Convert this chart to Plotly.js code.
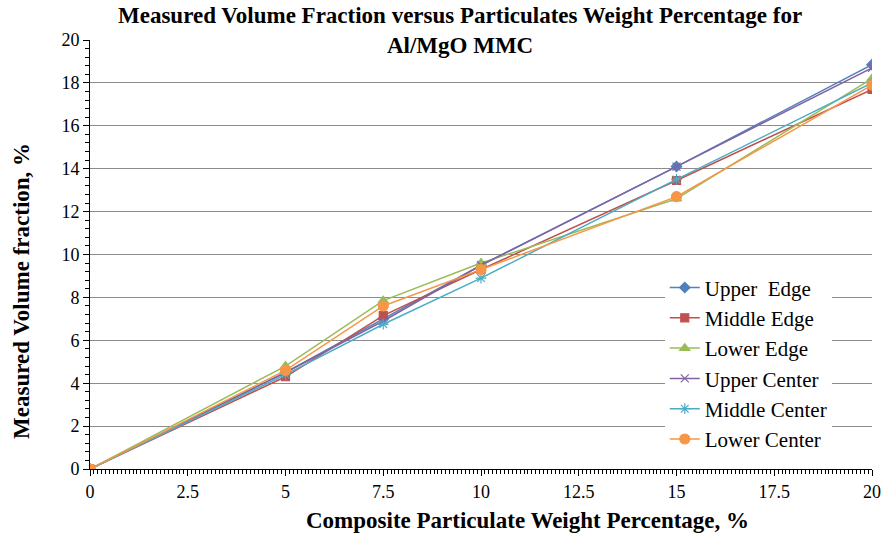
<!DOCTYPE html>
<html>
<head>
<meta charset="utf-8">
<script src="https://cdn.plot.ly/plotly-3.0.1.min.js"></script>
<style>html,body{margin:0;padding:0;background:#fff;}#chart{width:884px;height:535px;}</style>
</head>
<body>
<div id="chart"></div>
<script>
const weightPct = [0, 5, 7.5, 10, 15, 20];
const seriesNames = ["Upper  Edge", "Middle Edge", "Lower Edge", "Upper Center", "Middle Center", "Lower Center"];
const upperEdge = [0, 4.5, 7.0, 9.5, 14.1, 18.85];
const middleEdge = [0, 4.3, 7.15, 9.3, 13.45, 17.7];
const lowerEdge = [0, 4.8, 7.85, 9.6, 12.6, 18.2];
const upperCenter = [0, 4.5, 6.9, 9.5, 14.1, 18.7];
const middleCenter = [0, 4.4, 6.75, 8.9, 13.5, 18.0];
const lowerCenter = [0, 4.6, 7.6, 9.3, 12.7, 17.9];
const xTickVals = [0, 2.5, 5, 7.5, 10, 12.5, 15, 17.5, 20];
const xTickText = ["0", "2.5", "5", "7.5", "10", "12.5", "15", "17.5", "20"];
const chartTitle = "<b>Measured Volume Fraction versus Particulates Weight Percentage for<br>Al/MgO MMC</b>";
const xTitle = "<b>Composite Particulate Weight Percentage, %</b>";
const yTitle = "<b>Measured Volume fraction, %</b>";

const allSeries = [upperEdge, middleEdge, lowerEdge, upperCenter, middleCenter, lowerCenter];
const colors = ["#4F81BD", "#C0504D", "#9BBB59", "#8064A2", "#4BACC6", "#F79646"];
const symbols = ["diamond", "square", "triangle-up", "x-thin-open", "asterisk-open", "circle"];
const sizes = [8, 8, 9, 8, 9, 10];

const traces = allSeries.map((ys, i) => ({
  x: weightPct, y: ys, name: seriesNames[i], type: "scatter", mode: "lines+markers",
  line: {color: colors[i], width: 1.5},
  marker: {symbol: symbols[i], size: sizes[i], color: colors[i], line: {color: colors[i], width: 1.2}}
}));

const serif = "Liberation Serif";
const layout = {
  width: 884, height: 535,
  margin: {l: 90, r: 12, t: 40, b: 66},
  paper_bgcolor: "#fff", plot_bgcolor: "#fff",
  font: {family: serif, size: 18, color: "#000"},
  xaxis: {range: [0, 20], tickmode: "array", tickvals: xTickVals, ticktext: xTickText,
          showgrid: false, zeroline: false, showline: true, linecolor: "#000", linewidth: 1,
          ticks: "outside", ticklen: 6, tickcolor: "#000",
          minor: {dtick: 0.1, ticks: "outside", ticklen: 4, tickcolor: "#000", showgrid: false},
          tickfont: {family: serif, size: 18, color: "#000"}},
  yaxis: {range: [0, 20], tickmode: "linear", tick0: 0, dtick: 2, showgrid: true, gridcolor: "#8c8c8c", gridwidth: 1,
          zeroline: false, showline: true, linecolor: "#000", linewidth: 1,
          ticks: "outside", ticklen: 6, tickcolor: "#000",
          minor: {dtick: 0.4, ticks: "outside", ticklen: 4, tickcolor: "#000", showgrid: false},
          tickfont: {family: serif, size: 18, color: "#000"}},
  annotations: [
    {text: chartTitle, xref: "paper", yref: "paper", x: 0.473, y: 1.021, xanchor: "center", yanchor: "middle",
     showarrow: false, font: {family: serif, size: 23, color: "#000"}},
    {text: xTitle, xref: "paper", yref: "paper", x: 0.56, y: -0.119, xanchor: "center", yanchor: "middle",
     showarrow: false, font: {family: serif, size: 23, color: "#000"}},
    {text: yTitle, xref: "paper", yref: "paper", x: -0.087, y: 0.415, xanchor: "center", yanchor: "middle",
     textangle: -90, showarrow: false, font: {family: serif, size: 23, color: "#000"}}
  ],
  legend: {x: 0.735, y: 0.47, xanchor: "left", yanchor: "top", bgcolor: "#fff",
           font: {family: serif, size: 21, color: "#000"}, tracegroupgap: 0, itemwidth: 30},
  showlegend: true
};

Plotly.newPlot("chart", traces, layout, {displayModeBar: false, staticPlot: true});
</script>
</body>
</html>
